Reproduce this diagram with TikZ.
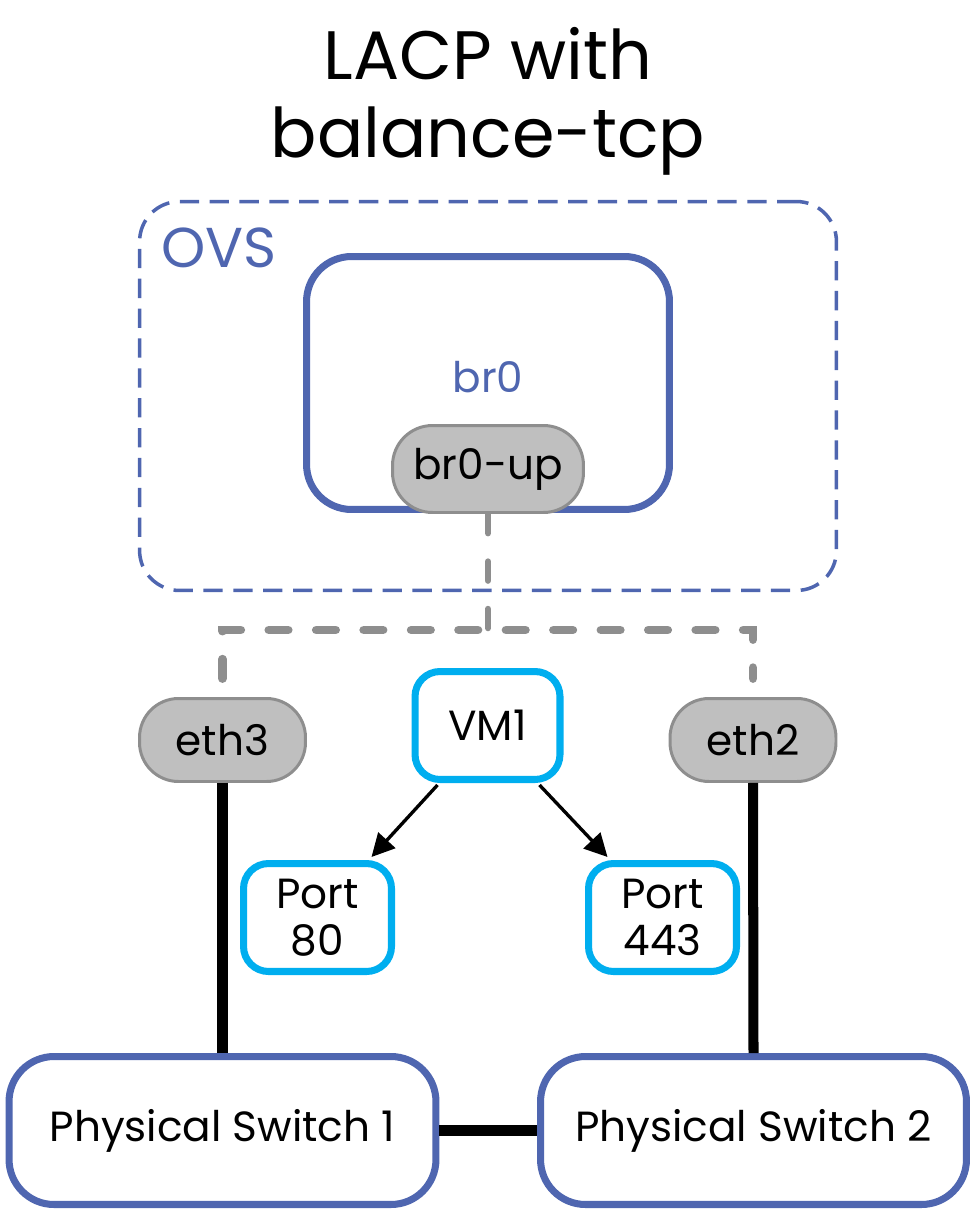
\documentclass[tikz,border=0pt]{standalone}
\usepackage{fontspec}
\setmainfont{Poppins}
\usetikzlibrary{arrows.meta,positioning}
\definecolor{ovsblue}{RGB}{79,102,176}
\definecolor{vmcyan}{RGB}{0,174,239}
\definecolor{ifacefill}{RGB}{191,191,191}
\definecolor{ifacegray}{RGB}{142,142,142}
\tikzset{
  txt/.style={font=\fontsize{24}{27}\selectfont, align=center, inner sep=0pt},
  ovsbox/.style={draw=ovsblue, line width=2pt, dash pattern=on 11pt off 6pt, rounded corners=0.8cm, inner sep=0pt},
  bridge/.style={draw=ovsblue, line width=4pt, rounded corners=0.9cm, fill=white, inner sep=0pt},
  iface/.style={txt, draw=ifacegray, fill=ifacefill, line width=1.7pt, rounded corners=0.78cm,
    minimum width=3.32cm, minimum height=1.66cm},
  vmbox/.style={txt, draw=vmcyan, fill=white, line width=4pt, rounded corners=0.5cm,
    minimum width=2.9cm, minimum height=2.16cm},
  switchbox/.style={txt, draw=ovsblue, fill=white, line width=4pt, rounded corners=0.9cm,
    minimum width=8.54cm, minimum height=2.96cm},
  uplink/.style={draw=ifacegray, line width=5pt, line cap=round, dash pattern=on 11pt off 16pt},
  wire/.style={draw=black, line width=5.7pt},
  flow/.style={draw=black, line width=1.9pt, -{Triangle[length=13pt,width=13pt]}}
}
\begin{document}
\begin{tikzpicture}[x=0.02cm,y=-0.02cm]
\useasboundingbox (0,0) rectangle (974,1216);
% title
\node[font=\fontsize{39}{44}\selectfont, anchor=base] (title1) at (488,80) {LACP with};
\node[font=\fontsize{39}{44}\selectfont, anchor=base] (title2) at (488,158) {balance-tcp};
% OVS with bridge
\node[ovsbox, minimum width=13.94cm, minimum height=7.78cm] (ovs) at (488,396) {};
\node[anchor=base west, inner sep=0pt, text=ovsblue, font=\fontsize{32}{36}\selectfont] (ovslabel) at (161,268) {OVS};
\node[bridge, minimum width=7.26cm, minimum height=5.06cm] (br0) at (488,383) {};
\node[txt, text=ovsblue] (br0label) at (488,377) {br0};
\node[iface, minimum width=3.82cm, minimum height=1.74cm, rounded corners=0.8cm] (br0up) at (488,469) {br0-up};
% uplinks
\node[iface] (eth3) at (222.5,740) {eth3};
\node[iface] (eth2) at (753,740) {eth2};
\coordinate (hub) at (488,630);
\draw[uplink, line width=3.5pt] (br0up.south) -- (hub);
\draw[uplink] ([yshift=0.37cm]eth3.north) |- (hub) -| ([yshift=0.37cm]eth2.north);
% VM and ports
\node[vmbox] (vm1) at (487.5,725.5) {VM1};
\node[vmbox, minimum width=2.96cm] (port80) at (317.5,917.5) {Port\\80};
\node[vmbox, minimum width=2.96cm] (port443) at (662.5,917.5) {Port\\443};
\draw[flow] ([xshift=-1cm,yshift=-0.04cm]vm1.south) -- ([xshift=1.08cm,yshift=0.06cm]port80.north);
\draw[flow] ([xshift=1.04cm,yshift=-0.04cm]vm1.south) -- ([xshift=-1.1cm,yshift=0.06cm]port443.north);
% physical switches
\node[switchbox] (ps1) at (222.5,1130.5) {Physical Switch 1};
\node[switchbox, minimum width=8.52cm] (ps2) at (753.5,1130.5) {Physical Switch 2};
\draw[wire] (eth3.south) -- (ps1.north);
\draw[wire] (eth2.south) -- (ps2.north);
\draw[wire, line width=6.5pt] (ps1.east) -- (ps2.west);
\end{tikzpicture}
\end{document}
